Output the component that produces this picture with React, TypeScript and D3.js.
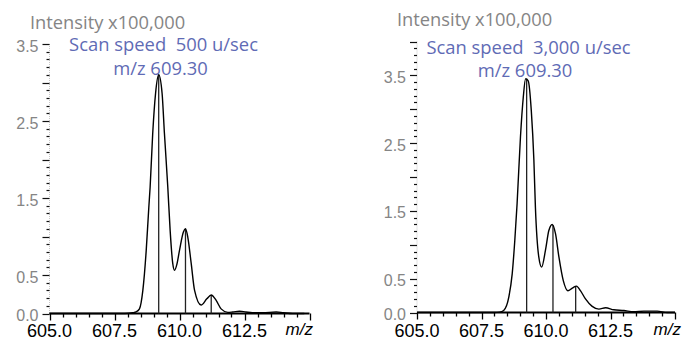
import React, { useEffect, useRef } from "react";
import * as d3 from "d3";

// Profile spectra (m/z, intensity x100,000)
const slowMz = [605.0, 607.9, 608.2, 608.33, 608.46, 608.59, 608.72, 608.82, 608.87, 608.97, 609.08, 609.2, 609.33, 609.42, 609.55, 609.64, 609.74, 609.81, 609.9, 610.0, 610.15, 610.23, 610.32, 610.45, 610.58, 610.83, 611.05, 611.22, 611.41, 611.6, 611.86, 612.05, 612.31, 612.55, 612.8, 613.2, 613.72, 614.0, 614.35, 614.8];
const slowInt = [0.0, 0.0, 0.01, 0.02, 0.06, 0.3, 0.82, 1.38, 1.64, 2.34, 2.86, 3.1, 2.86, 2.34, 1.64, 1.08, 0.65, 0.56, 0.64, 0.82, 1.06, 1.1, 0.99, 0.65, 0.3, 0.11, 0.19, 0.24, 0.17, 0.06, 0.015, 0.02, 0.03, 0.02, 0.01, 0.01, 0.02, 0.01, 0.0, 0.0];

const fastMz = [605.0, 608.0, 608.2, 608.36, 608.56, 608.69, 608.79, 608.88, 609.01, 609.12, 609.21, 609.31, 609.43, 609.53, 609.59, 609.72, 609.83, 609.98, 610.11, 610.24, 610.37, 610.5, 610.67, 610.85, 611.02, 611.18, 611.34, 611.53, 611.79, 612.05, 612.31, 612.63, 613.02, 613.4, 613.79, 614.31, 614.7, 615.0];
const fastInt = [0.0, 0.0, 0.005, 0.03, 0.23, 0.57, 1.06, 1.61, 2.59, 3.18, 3.45, 3.42, 2.98, 2.25, 1.55, 0.82, 0.67, 0.92, 1.21, 1.3, 1.16, 0.82, 0.47, 0.32, 0.36, 0.39, 0.32, 0.2, 0.09, 0.05, 0.07, 0.04, 0.03, 0.01, 0.02, 0.02, 0.0, 0.0];

// Centroid sticks
const slowStickMz = [609.2, 610.23, 611.22];
const slowStickInt = [3.1, 1.1, 0.24];
const fastStickMz = [609.25, 610.27, 611.15];
const fastStickInt = [3.44, 1.29, 0.39];

const xTickLabels = ["605.0", "607.5", "610.0", "612.5"];
const yTickLabels = ["0.0", "0.5", "1.5", "2.5", "3.5"];

const titleText = "Intensity x100,000";
const slowSpeed = "Scan speed  500 u/sec";
const fastSpeed = "Scan speed  3,000 u/sec";
const massLabel = "m/z 609.30";

const GRAY = "#858585";
const BLUE = "#5f6bb5";
const TITLE_FONT = "'Open Sans', 'DejaVu Sans', sans-serif";
const AXIS_FONT = "'Liberation Sans', Arial, sans-serif";

const panels = [
  {
    mz: slowMz, inten: slowInt, stickMz: slowStickMz, stickInt: slowStickInt,
    x0: 49.5, x1: 309.5, y0: 313.5, yTop: 44, yMax: 3.5,
    speed: slowSpeed, titleX: 30, titleY: 28.5,
    l1x: 163.5, l1y: 51, l2x: 160.5, l2y: 75, xLabY: 337, mzX: 313,
  },
  {
    mz: fastMz, inten: fastInt, stickMz: fastStickMz, stickInt: fastStickInt,
    x0: 417, x1: 675, y0: 312.5, yTop: 41.5, yMax: 4.0,
    speed: fastSpeed, titleX: 397, titleY: 26,
    l1x: 528.5, l1y: 54.3, l2x: 525, l2y: 77.3, xLabY: 336.5, mzX: 681,
  },
];

const App = () => {
  const svgRef = useRef();

  useEffect(() => {
    const svg = d3.select(svgRef.current);
    svg.selectAll("*").remove();

    panels.forEach((p) => {
      const x = d3.scaleLinear().domain([605, 615]).range([p.x0, p.x1]);
      // 3.5 sits at yTop for the left panel, 4.0 for the right one
      const y = d3.scaleLinear().domain([0, p.yMax]).range([p.y0, p.yTop]);
      const g = svg.append("g");

      // faint dotted y axis line
      g.append("line")
        .attr("x1", p.x0).attr("x2", p.x0)
        .attr("y1", y(p.yMax)).attr("y2", p.y0)
        .attr("stroke", "#c8c8c8").attr("stroke-dasharray", "1,1");

      // y ticks every 0.1, longer every 0.5
      const yTicks = d3.range(0, Math.round(p.yMax * 10) + 1).map((i) => i / 10);
      g.selectAll(".ytick")
        .data(yTicks)
        .enter()
        .append("line")
        .attr("x1", (d) => (Math.round(d * 10) % 5 === 0 ? p.x0 - 7 : p.x0 - 3))
        .attr("x2", p.x0)
        .attr("y1", (d) => Math.round(y(d)) + 0.5)
        .attr("y2", (d) => Math.round(y(d)) + 0.5)
        .attr("stroke", "#111")
        .attr("stroke-width", 1.2);

      g.selectAll(".ylab")
        .data(yTickLabels)
        .enter()
        .append("text")
        .attr("x", p.x0 - 11)
        .attr("y", (d) => y(+d) + 7.5)
        .attr("text-anchor", "end")
        .attr("fill", GRAY)
        .style("font-family", AXIS_FONT)
        .style("font-size", "16px")
        .text((d) => d);

      // x axis
      g.append("line")
        .attr("x1", p.x0).attr("x2", x(615))
        .attr("y1", p.y0).attr("y2", p.y0)
        .attr("stroke", "#000").attr("stroke-width", 2);

      const xTicks = d3.range(0, 21).map((i) => 605 + i * 0.5);
      g.selectAll(".xtick")
        .data(xTicks)
        .enter()
        .append("line")
        .attr("x1", (d) => Math.round(x(d)) + 0.5)
        .attr("x2", (d) => Math.round(x(d)) + 0.5)
        .attr("y1", p.y0)
        .attr("y2", (d) => (Math.round(d * 2) % 5 === 0 ? p.y0 + 7 : p.y0 + 4))
        .attr("stroke", "#000")
        .attr("stroke-width", 1.3);

      g.selectAll(".xlab")
        .data(xTickLabels)
        .enter()
        .append("text")
        .attr("x", (d) => x(+d))
        .attr("y", p.xLabY)
        .attr("text-anchor", "middle")
        .attr("fill", "#000")
        .style("font-family", AXIS_FONT)
        .style("font-size", "18px")
        .text((d) => d);

      g.append("text")
        .attr("x", p.mzX)
        .attr("y", p.xLabY - 2)
        .attr("text-anchor", "end")
        .style("font-family", AXIS_FONT)
        .style("font-size", "17px")
        .style("font-style", "italic")
        .text("m/z");

      // sticks
      g.selectAll(".stick")
        .data(p.stickMz)
        .enter()
        .append("line")
        .attr("x1", (d) => x(d)).attr("x2", (d) => x(d))
        .attr("y1", p.y0)
        .attr("y2", (d, i) => y(p.stickInt[i]))
        .attr("stroke", "#222")
        .attr("stroke-width", 1.3);

      // profile
      const line = d3
        .line()
        .x((d) => x(d[0]))
        .y((d) => y(d[1]))
        .curve(d3.curveMonotoneX);
      g.append("path")
        .attr("d", line(p.mz.map((m, i) => [m, p.inten[i]])))
        .attr("fill", "none")
        .attr("stroke", "#000")
        .attr("stroke-width", 1.4);

      // titles
      g.append("text")
        .attr("x", p.titleX)
        .attr("y", p.titleY)
        .attr("fill", GRAY)
        .style("font-family", TITLE_FONT)
        .style("font-size", "18.3px")
        .text(titleText);

      g.append("text")
        .attr("x", p.l1x)
        .attr("y", p.l1y)
        .attr("text-anchor", "middle")
        .attr("fill", BLUE)
        .style("font-family", TITLE_FONT)
        .style("font-size", "18.4px")
        .style("white-space", "pre")
        .text(p.speed);

      g.append("text")
        .attr("x", p.l2x)
        .attr("y", p.l2y)
        .attr("text-anchor", "middle")
        .attr("fill", BLUE)
        .style("font-family", TITLE_FONT)
        .style("font-size", "18.4px")
        .text(massLabel);
    });
  }, []);

  return (
    <div style={{ position: "absolute", left: 0, top: 0, width: 684, height: 341, background: "#fff" }}>
      <svg ref={svgRef} width={684} height={341} style={{ display: "block" }}></svg>
    </div>
  );
};

export default App;
